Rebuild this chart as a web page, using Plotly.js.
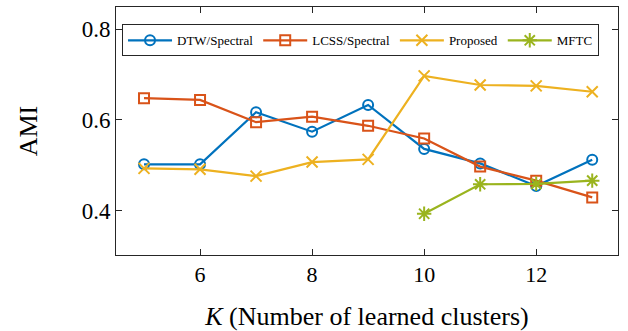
<!DOCTYPE html>
<html>
<head>
<meta charset="utf-8">
<script src="https://cdn.plot.ly/plotly-3.0.1.min.js"></script>
<style>html,body{margin:0;padding:0;background:#fff;}#chart{width:628px;height:331px;}</style>
</head>
<body>
<div id="chart"></div>
<script>
const K = [5, 6, 7, 8, 9, 10, 11, 12, 13];
const K_MFTC = [10, 11, 12, 13];
const dtwSpectral = [0.502, 0.502, 0.617, 0.574, 0.633, 0.536, 0.504, 0.454, 0.512];
const lcssSpectral = [0.648, 0.644, 0.595, 0.607, 0.587, 0.559, 0.497, 0.466, 0.429];
const proposed = [0.493, 0.491, 0.476, 0.507, 0.513, 0.697, 0.677, 0.675, 0.662];
const mftc = [0.393, 0.458, 0.459, 0.466];
const xTicks = [6, 8, 10, 12];
const yTicks = [0.4, 0.6, 0.8];

const serif = "Liberation Serif, Times New Roman, serif";
function tr(name, x, y, color, symbol, size) {
  return {
    type: 'scatter', mode: 'lines+markers', name: name, x: x, y: y,
    line: {color: color, width: 2.2},
    marker: {symbol: symbol, size: size, color: color, line: {color: color, width: 2}}
  };
}
const data = [
  tr('DTW/Spectral', K, dtwSpectral, '#0072BD', 'circle-open', 10),
  tr('LCSS/Spectral', K, lcssSpectral, '#D95319', 'square-open', 10),
  tr('Proposed', K, proposed, '#EDB120', 'x-thin-open', 11),
  tr('MFTC', K_MFTC, mftc, '#9AB41E', 'asterisk-open', 12)
];
const layout = {
  width: 628, height: 331,
  margin: {l: 116, r: 10, t: 7, b: 76},
  paper_bgcolor: '#fff', plot_bgcolor: '#fff',
  font: {family: serif, color: '#000'},
  showlegend: true,
  legend: {
    orientation: 'h', x: 0.012, y: 0.93, xanchor: 'left', yanchor: 'top',
    bordercolor: '#262626', borderwidth: 1, bgcolor: '#fff',
    font: {family: serif, size: 13, color: '#000'},
    itemwidth: 44, tracegroupgap: 0
  },
  xaxis: {
    range: [4.5, 13.46], tickvals: xTicks, ticktext: xTicks.map(String),
    ticks: 'inside', ticklen: 6, tickcolor: '#262626', tickwidth: 1,
    showline: true, linecolor: '#262626', linewidth: 1, mirror: 'ticks',
    showgrid: false, zeroline: false,
    tickfont: {family: serif, size: 22, color: '#000'},
    title: {text: '<i>K</i> (Number of learned clusters)', font: {family: serif, size: 26, color: '#000'}, standoff: 22}
  },
  yaxis: {
    range: [0.302, 0.849], tickvals: yTicks, ticktext: yTicks.map(v => v.toFixed(1)),
    ticks: 'inside', ticklen: 6, tickcolor: '#262626', tickwidth: 1,
    showline: true, linecolor: '#262626', linewidth: 1, mirror: 'ticks',
    showgrid: false, zeroline: false,
    tickfont: {family: serif, size: 23, color: '#000'},
    title: {text: 'AMI', font: {family: serif, size: 26, color: '#000'}, standoff: 36}
  }
};
Plotly.newPlot('chart', data, layout, {displayModeBar: false, staticPlot: true});
</script>
</body>
</html>
